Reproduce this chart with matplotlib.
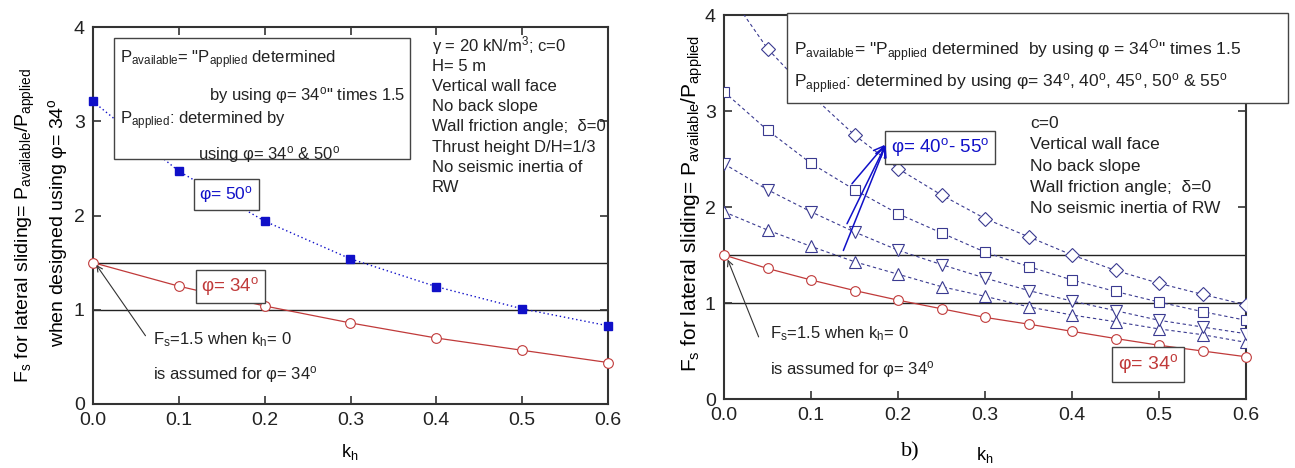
import numpy as np
import matplotlib
matplotlib.use("Agg")
import matplotlib.pyplot as plt

plt.rcParams['font.family'] = ['Liberation Sans', 'DejaVu Sans']
plt.rcParams['mathtext.fontset'] = 'custom'
plt.rcParams['mathtext.rm'] = 'Liberation Sans'
plt.rcParams['mathtext.it'] = 'Liberation Sans:italic'
plt.rcParams['mathtext.bf'] = 'Liberation Sans:bold'

# ---- data ----
# panel a: phi = 34 and phi = 50
kh_a = [0.0, 0.1, 0.2, 0.3, 0.4, 0.5, 0.6]
fs34_a = [1.50, 1.25, 1.04, 0.86, 0.70, 0.57, 0.44]
fs50_a = [3.21, 2.47, 1.94, 1.54, 1.245, 1.01, 0.83]

# panel b: phi = 34, 40, 45, 50, 55
kh_b = [0.0, 0.05, 0.1, 0.15, 0.2, 0.25, 0.3, 0.35, 0.4, 0.45, 0.5, 0.55, 0.6]
fs34_b = [1.50, 1.36, 1.24, 1.13, 1.03, 0.94, 0.85, 0.78, 0.705, 0.63, 0.56, 0.50, 0.44]
fs40_b = [1.95, 1.76, 1.59, 1.43, 1.30, 1.17, 1.07, 0.96, 0.875, 0.805, 0.73, 0.67, 0.59]
fs45_b = [2.45, 2.18, 1.95, 1.74, 1.55, 1.40, 1.26, 1.13, 1.02, 0.92, 0.82, 0.75, 0.68]
fs50_b = [3.20, 2.80, 2.455, 2.18, 1.93, 1.73, 1.53, 1.38, 1.24, 1.12, 1.01, 0.91, 0.82]
fs55_b = [4.30, 3.65, 3.17, 2.75, 2.40, 2.125, 1.88, 1.69, 1.50, 1.34, 1.205, 1.09, 0.98]

fs_limits = [1.5, 1.0]

red = '#c03a3a'
blue = '#1010c8'
navy = '#3a3a90'
frame = '#333333'
ink = '#222222'

fig = plt.figure(figsize=(12.95, 4.68), dpi=100)
ax1 = fig.add_axes([93 / 1295, 1 - 404 / 468, (608 - 93) / 1295, (404 - 27) / 468])
ax2 = fig.add_axes([724 / 1295, 1 - 399 / 468, (1246 - 724) / 1295, (399 - 15) / 468])


def style_axes(ax):
    ax.set_xlim(0, 0.6)
    ax.set_ylim(0, 4)
    ax.set_xticks(np.arange(0, 0.61, 0.1))
    ax.set_xticklabels(['0.0', '0.1', '0.2', '0.3', '0.4', '0.5', '0.6'])
    ax.set_yticks([0, 1, 2, 3, 4])
    ax.tick_params(direction='in', top=True, right=True, length=6, width=1.2,
                   labelsize=14, color=frame, labelcolor=ink, pad=6)
    for s in ax.spines.values():
        s.set_linewidth(1.5)
        s.set_color(frame)
    for v in fs_limits:
        ax.axhline(v, color=ink, lw=1.0, zorder=1)


box = dict(boxstyle='square,pad=0.3', fc='white', ec='#444444', lw=1.0)

# ---- (a) ----
style_axes(ax1)
ax1.plot(kh_a, fs34_a, color=red, lw=0.9, marker='o', ms=7, mfc='white',
         mec=red, mew=0.8, clip_on=False, zorder=3)
ax1.plot(kh_a, fs50_a, color=blue, lw=1.0, ls=(0, (1, 2)), marker='s', ms=6,
         mfc=blue, mec=blue, clip_on=False, zorder=3)

ax1.add_patch(plt.Rectangle((0.0245, 2.6), 0.345, 1.285, fc='white', ec='#444444',
                            lw=1.0, zorder=4))
t1 = dict(fontsize=12, color=ink, zorder=5)
ax1.text(0.031, 3.62, r'P$_{\rm available}$= "P$_{\rm applied}$ determined', **t1)
ax1.text(0.135, 3.22, 'by using φ= 34$^{\\rm o}$" times 1.5', **t1)
ax1.text(0.031, 2.97, r'P$_{\rm applied}$: determined by', **t1)
ax1.text(0.122, 2.60, 'using φ= 34$^{\\rm o}$ & 50$^{\\rm o}$', **t1)

info_a = ['γ = 20 kN/m$^3$; c=0', 'H= 5 m', 'Vertical wall face', 'No back slope',
          'Wall friction angle;  δ=0', 'Thrust height D/H=1/3',
          'No seismic inertia of', 'RW']
for i, line in enumerate(info_a):
    ax1.text(0.395, 3.80 - i * 0.215, line, fontsize=12, color=ink, va='center')

ax1.text(0.124, 2.22, 'φ= 50$^{\\rm o}$', fontsize=12.5, color=blue,
         va='center', bbox=box, zorder=5)
ax1.text(0.126, 1.25, 'φ= 34$^{\\rm o}$', fontsize=13.5, color=red,
         va='center', bbox=box, zorder=5)
ax1.annotate('', xy=(0.002, 1.50), xytext=(0.063, 0.70),
             arrowprops=dict(arrowstyle='->', color='#333333', lw=0.8))
ax1.text(0.07, 0.68, r'F$_{\rm s}$=1.5 when k$_{\rm h}$= 0', fontsize=12,
         color=ink, va='center')
ax1.text(0.07, 0.31, 'is assumed for φ= 34$^{\\rm o}$', fontsize=12,
         color=ink, va='center')

fig.text(350 / 1295, 1 - 452 / 468, r'k$_{\rm h}$', fontsize=13, ha='center', va='center')
fig.text(25 / 1295, 1 - 225 / 468,
         r'F$_{\rm s}$ for lateral sliding= P$_{\rm available}$/P$_{\rm applied}$',
         fontsize=14, rotation=90, ha='center', va='center')
fig.text(58 / 1295, 1 - 222 / 468, 'when designed using φ= 34$^{\\rm o}$',
         fontsize=14, rotation=90, ha='center', va='center')

# ---- (b) ----
style_axes(ax2)
ax2.plot(kh_b, fs34_b, color=red, lw=0.9, marker='o', ms=7, mfc='white',
         mec=red, mew=0.8, clip_on=False, zorder=3)
for vals, mk in [(fs40_b, '^'), (fs45_b, 'v'), (fs50_b, 's'), (fs55_b, 'D')]:
    ax2.plot(kh_b, vals, color=navy, lw=0.8, ls=(0, (3, 2.5)), marker=mk,
             ms=9 if mk in '^v' else 7, mfc='white', mec=navy, mew=0.8, zorder=3)

ax2.add_patch(plt.Rectangle((0.072, 3.08), 0.576, 0.94, fc='white', ec='#444444',
                            lw=1.0, zorder=4, clip_on=False))
ax2.text(0.080, 3.63,
         r'P$_{\rm available}$= "P$_{\rm applied}$ determined  by using φ = 34$^{\rm O}$" times 1.5',
         fontsize=12.5, color=ink, zorder=5, va='center', clip_on=False)
ax2.text(0.080, 3.28,
         r'P$_{\rm applied}$: determined by using φ= 34$^{\rm o}$, 40$^{\rm o}$, 45$^{\rm o}$, 50$^{\rm o}$ & 55$^{\rm o}$',
         fontsize=12.5, color=ink, zorder=5, va='center', clip_on=False)

info_b = ['c=0', 'Vertical wall face', 'No back slope',
          'Wall friction angle;  δ=0', 'No seismic inertia of RW']
for i, line in enumerate(info_b):
    ax2.text(0.352, 2.87 - i * 0.222, line, fontsize=12.5, color=ink, va='center')

ax2.text(0.192, 2.62, 'φ= 40$^{\\rm o}$- 55$^{\\rm o}$', fontsize=13.5, color=blue,
         va='center', bbox=box, zorder=5)
for tail in [(0.145, 2.22), (0.14, 1.80), (0.136, 1.52)]:
    ax2.annotate('', xy=(0.187, 2.67), xytext=tail,
                 arrowprops=dict(arrowstyle='->', color=blue, lw=1.1, mutation_scale=18),
                 zorder=5)
ax2.text(0.453, 0.36, 'φ= 34$^{\\rm o}$', fontsize=14, color=red,
         va='center', bbox=box, zorder=5)
ax2.annotate('', xy=(0.003, 1.48), xytext=(0.041, 0.62),
             arrowprops=dict(arrowstyle='->', color='#333333', lw=0.8))
ax2.text(0.053, 0.68, r'F$_{\rm s}$=1.5 when k$_{\rm h}$= 0', fontsize=12,
         color=ink, va='center')
ax2.text(0.053, 0.31, 'is assumed for φ= 34$^{\\rm o}$', fontsize=12,
         color=ink, va='center')

fig.text(985 / 1295, 1 - 455 / 468, r'k$_{\rm h}$', fontsize=13, ha='center', va='center')
fig.text(692 / 1295, 1 - 203 / 468,
         r'F$_{\rm s}$ for lateral sliding= P$_{\rm available}$/P$_{\rm applied}$',
         fontsize=15, rotation=90, ha='center', va='center')
fig.text(910 / 1295, 1 - 452 / 468, 'b)', fontsize=16, family='Liberation Serif',
         ha='center', va='center')

fig.savefig('out.png', dpi=100)
